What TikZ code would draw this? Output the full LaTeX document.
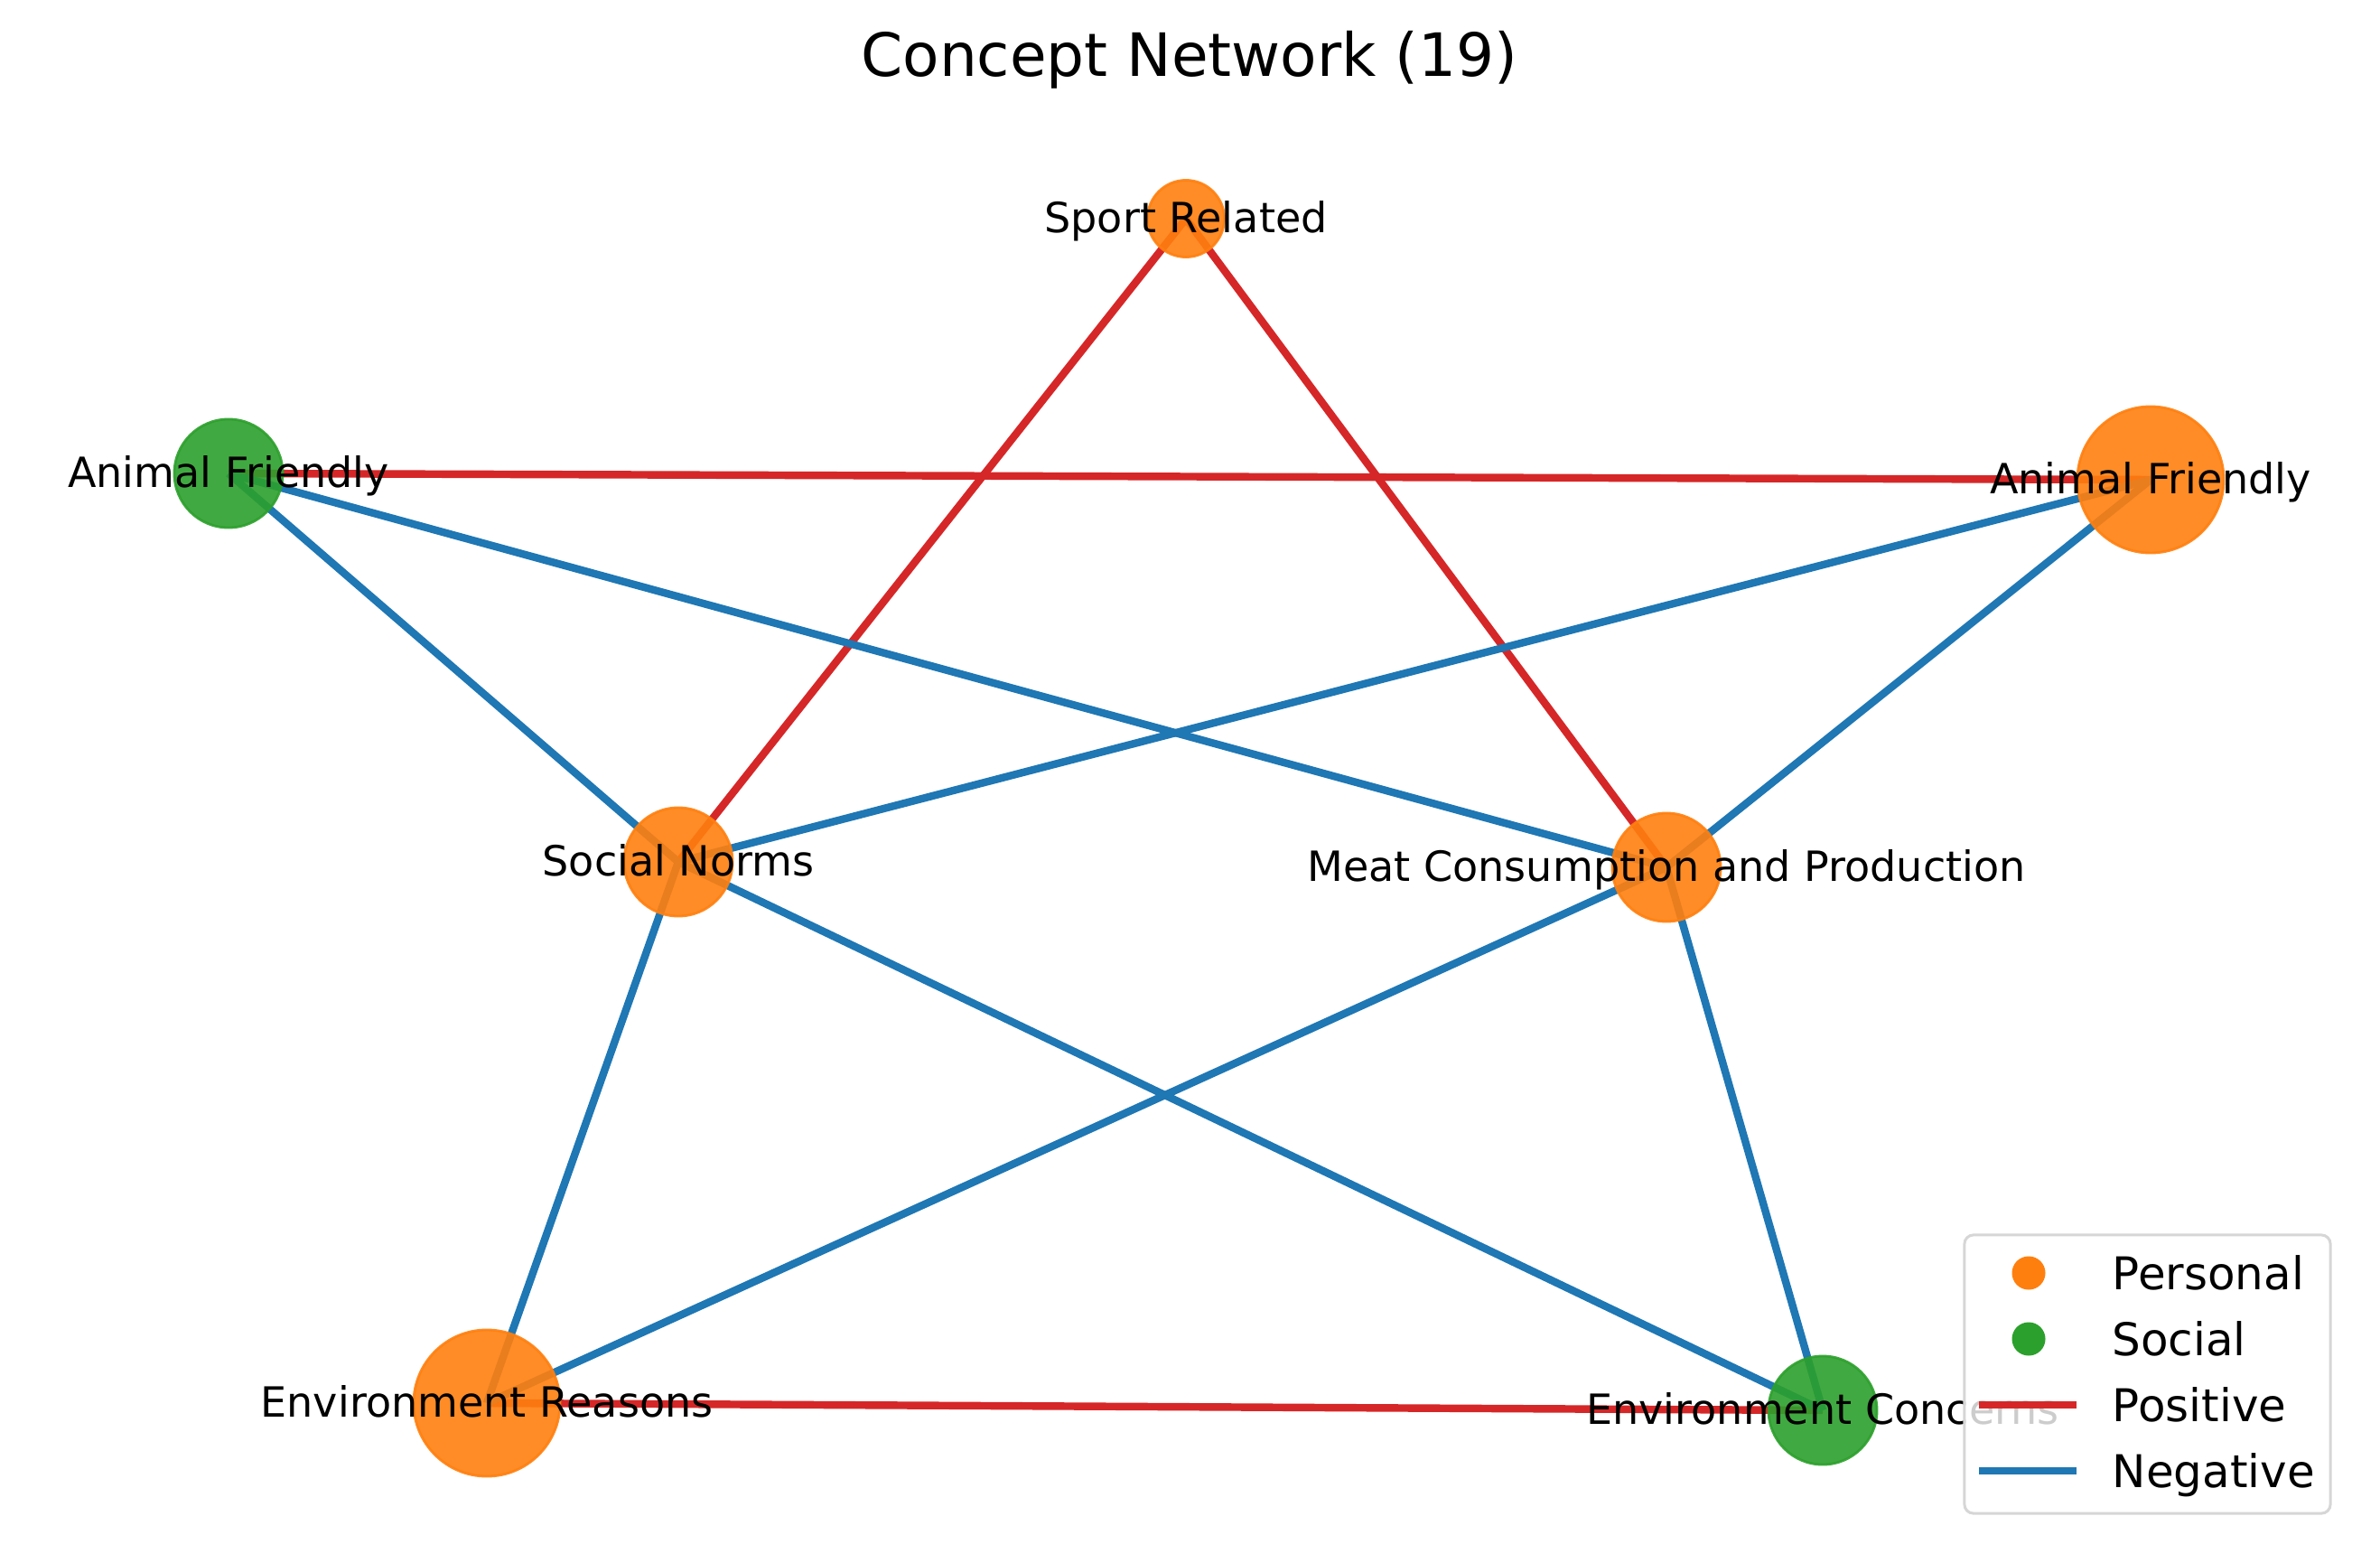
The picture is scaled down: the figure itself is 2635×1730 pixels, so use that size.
\documentclass[tikz,border=0pt]{standalone}
\usepackage{fontspec}
\setmainfont{DejaVu Sans}
\usetikzlibrary{backgrounds}
\definecolor{pers}{RGB}{255,127,14}
\definecolor{soc}{RGB}{44,160,44}
\definecolor{pos}{RGB}{214,39,40}
\definecolor{neg}{RGB}{31,119,180}
\definecolor{frame}{RGB}{214,214,214}

\begin{document}
\begin{tikzpicture}[x=0.01cm,y=-0.01cm,
          concept/.style={circle,draw=#1,fill=#1,opacity=0.9,line width=0.8pt,inner sep=0pt},
          lbl/.style={font=\fontsize{13.1}{15}\selectfont,anchor=base,yshift=-0.15cm,inner sep=0pt},
          tie/.style={draw=#1,line width=2.4pt},
          key/.style={font=\fontsize{14.2}{17}\selectfont,anchor=base west,inner sep=0pt},
          dot/.style={circle,fill=#1,minimum size=0.37cm,inner sep=0pt}
        ]
        \path[use as bounding box] (0,0) rectangle (2635,1730);
        \node (title) [font=\fontsize{18.8}{22}\selectfont,anchor=base] at (1317,84) {Concept Network (19)};
        \node[concept=pers,minimum size=0.85cm] (sport) at (1313,242) {};
        \node[concept=soc,minimum size=1.2cm] (animS) at (253,524) {};
        \node[concept=pers,minimum size=1.62cm] (animP) at (2381,531) {};
        \node[concept=pers,minimum size=1.2cm] (norms) at (751,954) {};
        \node[concept=pers,minimum size=1.2cm] (meat) at (1845,960) {};
        \node[concept=pers,minimum size=1.62cm] (envR) at (539,1553) {};
        \node[concept=soc,minimum size=1.2cm] (envC) at (2018,1561) {};
        \begin{scope}[on background layer]
          \foreach \a/\b in {sport/norms,sport/meat,animS/animP,envR/envC}
            \draw[tie=pos] (\a.center) -- (\b.center);
          \foreach \a/\b in {animS/norms,animS/meat,animP/norms,animP/meat,norms/envR,norms/envC,meat/envR,meat/envC}
            \draw[tie=neg] (\a.center) -- (\b.center);
        \end{scope}
        \node[lbl] (sportL) at (sport) {Sport Related};
        \node[lbl] (animSL) at (animS) {Animal Friendly};
        \node[lbl] (animPL) at (animP) {Animal Friendly};
        \node[lbl] (normsL) at (norms) {Social Norms};
        \node[lbl] (meatL) at (meat) {Meat Consumption and Production};
        \node[lbl] (envRL) at (envR) {Environment Reasons};
        \node[lbl] (envCL) at (envC) {Environment Concerns};
        \node (legend) [draw=frame,line width=0.03cm,fill=white,fill opacity=0.8,rounded corners=0.1cm,
              minimum width=4.05cm,minimum height=3.08cm] at (2377.5,1521) {};
        \node[dot=pers] (kpers) at (2246,1409) {};
        \node[dot=soc] (ksoc) at (2246,1482) {};
        \draw[tie=pos] (2191,1555) -- (2299,1555);
        \draw[tie=neg] (2191,1628) -- (2299,1628);
        \node[key] (tpers) at (2338,1427) {Personal};
        \node[key] (tsoc) at (2338,1500) {Social};
        \node[key] (tpos) at (2338,1573) {Positive};
        \node[key] (tneg) at (2338,1646) {Negative};
      \end{tikzpicture}
\end{document}
